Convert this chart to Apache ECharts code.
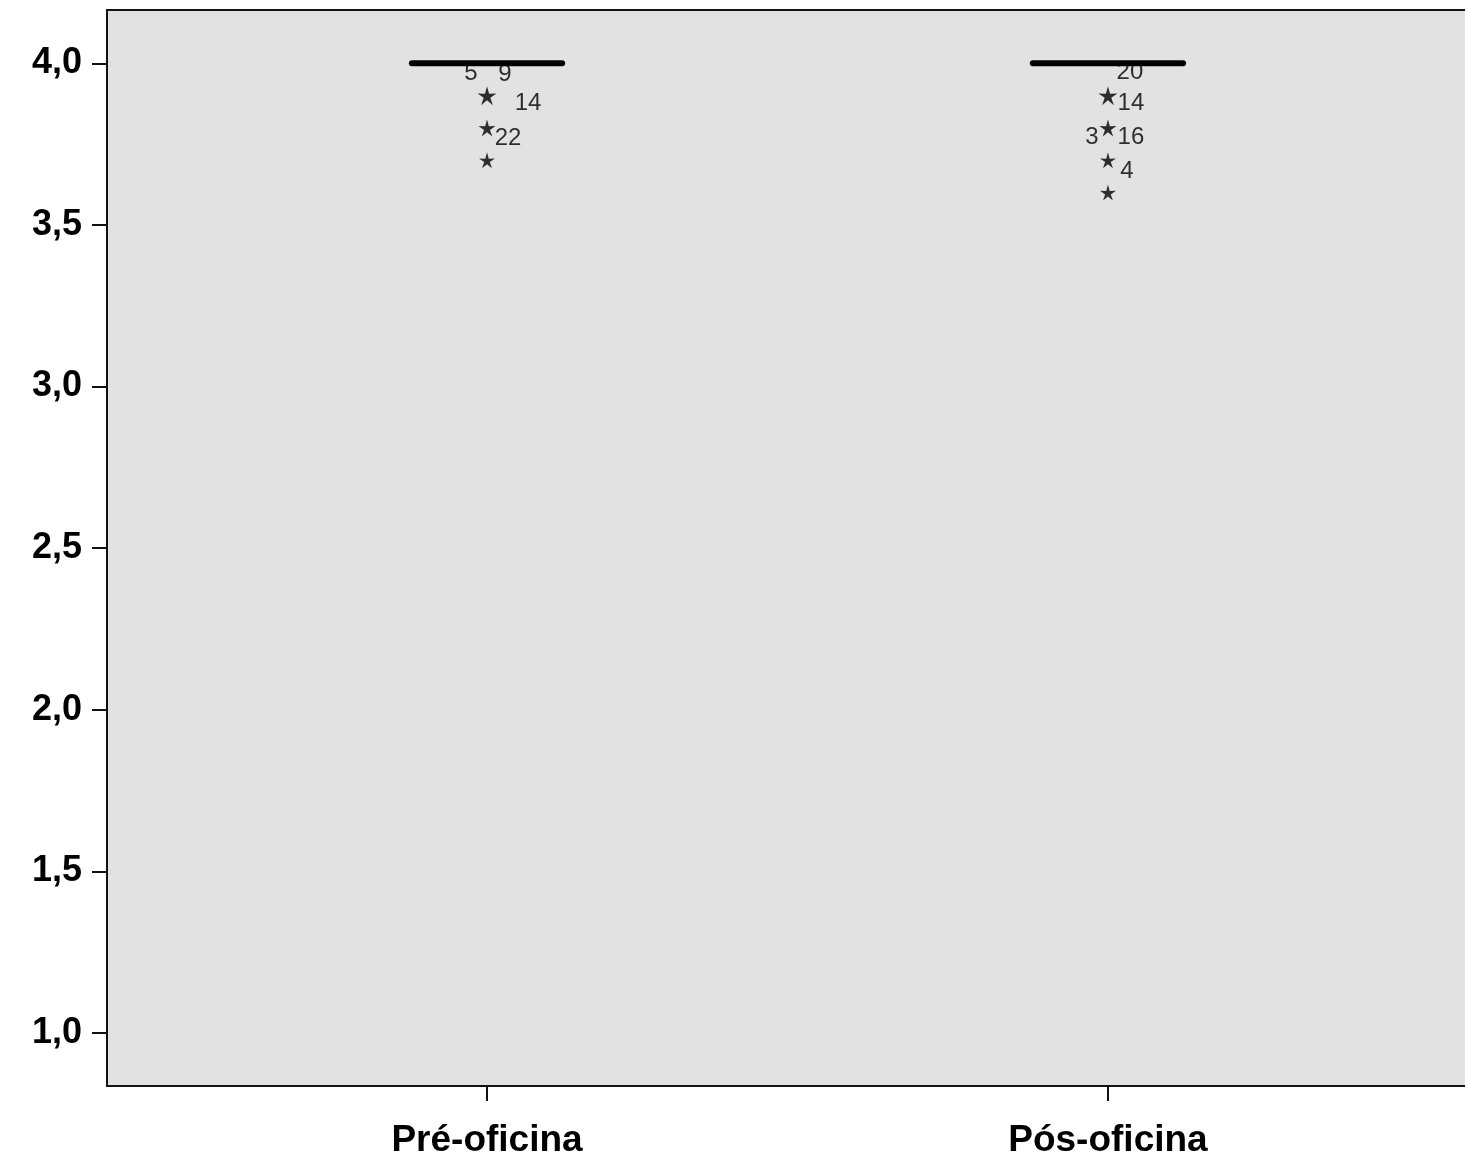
<!DOCTYPE html>
<html>
<head>
<meta charset="utf-8">
<script src="https://cdn.jsdelivr.net/npm/echarts@6/dist/echarts.min.js"></script>
<style>html,body{margin:0;padding:0;background:#fff}#c{width:1465px;height:1159px}</style>
</head>
<body>
<div id="c"></div>
<script>
// ---- data ----
var categories = ['Pré-oficina', 'Pós-oficina'];
var medians = [4.0, 4.0];
var preOutliers = [3.9, 3.8, 3.7];
var postOutliers = [3.9, 3.8, 3.7, 3.6];
var preOutlierLabels = [['5', '9', '14'], ['22'], []];
var postOutlierLabels = [['20', '14'], ['3', '16'], ['4'], []];
var yTicks = [1.0, 1.5, 2.0, 2.5, 3.0, 3.5, 4.0];

// ---- style: label offsets (px) relative to their point ----
var labelOffsets = {
  '0': { '5': [-16, -22], '9': [18, -21], '14': [41, 8], '22': [21, 10] },
  '1': { '20': [22, -23], '14': [23, 8], '3': [-16, 9], '16': [23, 9], '4': [19, 11] }
};
var halfWidth = 0.121;
var starPath = 'path://M0,-10 L2.057,-2.832 L9.511,-3.090 L3.329,1.082 L5.878,8.090 L0,3.5 L-5.878,8.090 L-3.329,1.082 L-9.511,-3.090 L-2.057,-2.832 Z';
var starSizes = [19, 17, 16, 16];

var outlierSets = [preOutliers, postOutliers];
var labelSets = [preOutlierLabels, postOutlierLabels];

var pointData = [];
var labelData = [];
outlierSets.forEach(function (arr, gi) {
  arr.forEach(function (v, k) {
    pointData.push({ value: [gi + 1, v], symbolSize: starSizes[k] });
    labelSets[gi][k].forEach(function (t) {
      labelData.push({
        value: [gi + 1, v],
        label: { formatter: t, offset: labelOffsets[String(gi)][t] }
      });
    });
  });
});

var fmt = function (v) { return v.toFixed(1).replace('.', ','); };
var axisColor = '#111';

var chart = echarts.init(document.getElementById('c'));
chart.setOption({
  animation: false,
  grid: {
    left: 107, top: 10, bottom: 72, right: 0,
    show: true, backgroundColor: '#e2e2e2', borderWidth: 0
  },
  xAxis: [{
    type: 'value', min: 0.388, max: 2.575,
    splitLine: { show: false },
    axisLine: { show: true, onZero: false, lineStyle: { color: axisColor, width: 2 } },
    axisTick: { show: true, customValues: [1, 2], length: 15, lineStyle: { color: axisColor, width: 2 } },
    axisLabel: {
      customValues: [1, 2], margin: 36,
      formatter: function (v) { return categories[Math.round(v) - 1]; },
      fontFamily: 'Liberation Sans, Arial, sans-serif', fontWeight: 'bold', fontSize: 37, color: '#000'
    }
  }, {
    type: 'value', position: 'top', min: 0.388, max: 2.575,
    splitLine: { show: false },
    axisLine: { show: true, onZero: false, lineStyle: { color: axisColor, width: 2 } },
    axisTick: { show: false }, axisLabel: { show: false }
  }],
  yAxis: {
    type: 'value', min: 0.836, max: 4.165,
    splitLine: { show: false },
    axisLine: { show: true, onZero: false, lineStyle: { color: axisColor, width: 2 } },
    axisTick: { show: true, customValues: yTicks, length: 15, lineStyle: { color: axisColor, width: 2 } },
    axisLabel: {
      customValues: yTicks, margin: 25, formatter: fmt,
      fontFamily: 'Liberation Sans, Arial, sans-serif', fontWeight: 'bold', fontSize: 36, color: '#000'
    }
  },
  series: [
    {
      type: 'custom',
      data: medians.map(function (m, i) { return [i + 1, m]; }),
      renderItem: function (params, api) {
        var x = api.value(0), m = api.value(1);
        var p1 = api.coord([x - halfWidth, m]);
        var p2 = api.coord([x + halfWidth, m]);
        return {
          type: 'line',
          shape: { x1: p1[0], y1: p1[1], x2: p2[0], y2: p2[1] },
          style: { stroke: '#000', lineWidth: 6, lineCap: 'round' }
        };
      },
      z: 3
    },
    {
      type: 'scatter',
      symbol: starPath,
      itemStyle: { color: '#000' },
      data: pointData,
      z: 4
    },
    {
      type: 'scatter',
      symbolSize: 0,
      data: labelData,
      label: {
        show: true, position: 'inside',
        fontFamily: 'Liberation Sans, Arial, sans-serif', fontSize: 24, color: '#000'
      },
      z: 5
    }
  ]
});
</script>
</body>
</html>
